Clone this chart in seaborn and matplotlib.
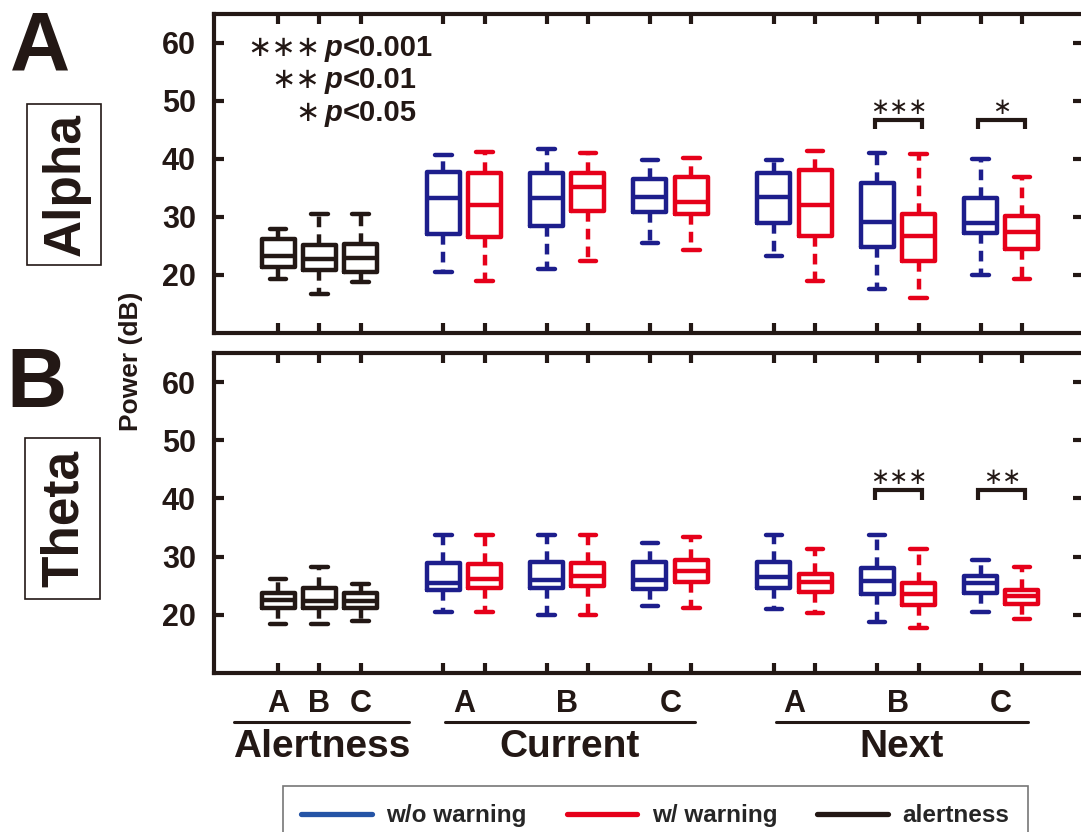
import numpy as np
import pandas as pd
import matplotlib
matplotlib.use("Agg")
import matplotlib.pyplot as plt
import seaborn as sns
from matplotlib.lines import Line2D
from matplotlib.patches import Rectangle
from matplotlib.transforms import blended_transform_factory

# five-number summaries: [min, q1, median, q3, max]
conditions = ["A", "B", "C"]
periods = ["Current", "Next"]
kinds = ["w/o warning", "w/ warning", "alertness"]

alert_alpha = [[19.3, 21.4, 23.2, 26.2, 28.0],
               [16.8, 20.8, 22.7, 25.1, 30.6],
               [18.8, 20.6, 23.0, 25.3, 30.6]]
wo_alpha = [[20.5, 27.0, 33.3, 37.8, 40.7],
            [21.0, 28.4, 33.3, 37.6, 41.7],
            [25.5, 30.9, 33.5, 36.6, 39.8],
            [23.2, 28.9, 33.5, 37.6, 39.8],
            [17.6, 24.8, 29.2, 35.9, 41.0],
            [20.0, 27.2, 28.9, 33.3, 40.0]]
w_alpha = [[19.0, 26.5, 32.0, 37.6, 41.2],
           [22.4, 31.1, 35.2, 37.6, 41.0],
           [24.3, 30.6, 32.6, 36.9, 40.2],
           [19.0, 26.7, 32.0, 38.1, 41.4],
           [16.1, 22.4, 26.8, 30.6, 40.9],
           [19.3, 24.4, 27.5, 30.1, 36.9]]

alert_theta = [[18.5, 21.2, 22.6, 23.8, 26.2],
               [18.5, 21.2, 22.4, 24.6, 28.2],
               [19.0, 21.2, 22.4, 23.8, 25.3]]
wo_theta = [[20.5, 24.2, 25.5, 28.9, 33.7],
            [20.0, 24.6, 25.9, 29.1, 33.7],
            [21.5, 24.5, 26.0, 29.0, 32.3],
            [21.0, 24.6, 26.5, 29.0, 33.8],
            [18.8, 23.6, 25.8, 28.0, 33.8],
            [20.5, 23.8, 25.5, 26.6, 29.4]]
w_theta = [[20.5, 24.6, 26.2, 28.7, 33.7],
           [20.0, 25.0, 26.6, 28.9, 33.7],
           [21.2, 25.7, 27.5, 29.4, 33.3],
           [20.3, 24.0, 25.6, 27.0, 31.3],
           [17.8, 21.7, 23.6, 25.5, 31.3],
           [19.3, 21.9, 23.3, 24.2, 28.2]]

# significance marks: (condition index in Next, stars)
sig_alpha = [(1, "∗∗∗"), (2, "∗")]
sig_theta = [(1, "∗∗∗"), (2, "∗∗")]

BLUE = "#1d1e8c"
RED = "#e6001a"
BLACK = "#231815"
LEG_BLUE = "#2554a6"

sns.set_style("ticks")
plt.rcParams["font.family"] = ["Liberation Sans", "DejaVu Sans"]
plt.rcParams["font.weight"] = "bold"

W, H = 1081, 832
def fx(px):
    return px / W
def fy(py):
    return 1 - py / H


def slot(period, cond):
    return 4 + 8 * period + 2.5 * cond


def make_frame(alert, wo, w):
    rows = []
    for i, s in enumerate(alert):
        rows += [(float(i), "alertness", v) for v in s]
    for j in range(6):
        p, c = divmod(j, 3)
        rows += [(slot(p, c), "w/o warning", v) for v in wo[j]]
        rows += [(slot(p, c) + 1, "w/ warning", v) for v in w[j]]
    return pd.DataFrame(rows, columns=["pos", "kind", "power"])


fig = plt.figure(figsize=(W / 100, H / 100), dpi=100)
axA = fig.add_axes([fx(214), fy(333), fx(1083) - fx(214), fy(14) - fy(333)])
axB = fig.add_axes([fx(214), fy(673), fx(1083) - fx(214), fy(353) - fy(673)])

xpos = [0, 1, 2] + [slot(p, c) + k for p in range(2) for c in range(3) for k in range(2)]

for ax, data, sig in [(axA, (alert_alpha, wo_alpha, w_alpha), sig_alpha),
                      (axB, (alert_theta, wo_theta, w_theta), sig_theta)]:
    df = make_frame(*data)
    sns.boxplot(data=df, x="pos", y="power", hue="kind", hue_order=kinds,
                palette=[BLUE, RED, BLACK], native_scale=True, dodge=False,
                fill=False, width=0.8, linewidth=3.2, whis=(0, 100),
                showfliers=False, legend=False,
                whiskerprops=dict(linestyle=(0, (2.4, 1.6))), ax=ax)
    ax.set_xlim(-1.55, 19.48)
    ax.set_ylim(10, 65)
    ax.set_yticks([20, 30, 40, 50, 60])
    ax.set_xticks(xpos)
    ax.set_xlabel("")
    ax.set_ylabel("")
    ax.tick_params(direction="in", length=7, width=3, top=True, right=True,
                   labelbottom=False, labelsize=22, pad=13, color=BLACK,
                   labelcolor=BLACK)
    for sp in ax.spines.values():
        sp.set_linewidth(3)
        sp.set_color(BLACK)
    # significance brackets
    ytop = 46.7 if ax is axA else 41.4
    for c, stars in sig:
        x0 = slot(1, c)
        ax.plot([x0 - 0.05, x0 - 0.05, x0 + 1.08, x0 + 1.08],
                [ytop - 1.6, ytop, ytop, ytop - 1.6], color=BLACK, lw=3,
                solid_joinstyle="miter", solid_capstyle="butt")
        ax.text(x0 + 0.52, ytop + 2.2, stars, ha="center", va="center",
                fontsize=16.5, family="DejaVu Sans", fontweight="normal", color=BLACK)

# p-value key
for py, stars, ptxt in [(48, "∗∗∗", "<0.001"), (80, "∗∗", "<0.01"), (113, "∗", "<0.05")]:
    t = fig.text(fx(325), fy(py), "p", ha="left", va="center", fontsize=21,
                 style="italic", color=BLACK)
    axA.annotate(ptxt, xy=(1, 0.5), xycoords=t, ha="left", va="center",
                 fontsize=21, color=BLACK)
    axA.annotate(stars, xy=(0, 0.5), xycoords=t, xytext=(-5, 0),
                 textcoords="offset pixels", ha="right", va="center",
                 fontsize=21, family="DejaVu Sans", fontweight="normal", color=BLACK)

# panel letters and band names
fig.text(fx(40), fy(70), "A", fontsize=60, fontweight="heavy", ha="center", va="baseline", color=BLACK)
fig.text(fx(37), fy(407), "B", fontsize=60, fontweight="heavy", ha="center", va="baseline", color=BLACK)
for (x0, y0, x1, y1), name in [((27, 104, 101, 265), "Alpha"), ((25, 438, 100, 599), "Theta")]:
    fig.add_artist(Rectangle((fx(x0), fy(y1)), fx(x1) - fx(x0), fy(y0) - fy(y1),
                             transform=fig.transFigure, fill=False, ec=BLACK, lw=1.2))
    fig.text(fx((x0 + x1) / 2 + 2), fy((y0 + y1) / 2), name, rotation=90, fontsize=37,
             ha="center", va="center", color=BLACK)
fig.text(fx(131), fy(361), "Power (dB)", rotation=90, fontsize=19, ha="center",
         va="center", color=BLACK)

# category axis labels under panel B
tr = blended_transform_factory(axB.transData, fig.transFigure)
for i, c in enumerate(conditions):
    fig.text(i, fy(704), c, transform=tr, ha="center", va="center", fontsize=22, color=BLACK)
    for p in range(2):
        fig.text(slot(p, i) + 0.5, fy(704), c, transform=tr, ha="center",
                 va="center", fontsize=22, color=BLACK)
for (a, b), name in [((234, 409), "Alertness"), ((445, 695), periods[0]), ((776, 1028), periods[1])]:
    fig.add_artist(Line2D([fx(a), fx(b)], [fy(722), fy(722)], color=BLACK, lw=2.2))
    fig.text(fx((a + b) / 2), fy(747), name, ha="center", va="center", fontsize=28, color=BLACK)

handles = [Line2D([], [], color=col, lw=3.8) for col in [LEG_BLUE, RED, BLACK]]
leg = fig.legend(handles, ["w/o warning", "w/ warning", "alertness"], loc="upper left",
                 bbox_to_anchor=(fx(283), fy(786)), ncol=3, frameon=True, fancybox=False,
                 prop=dict(weight="bold", size=17.5),
                 handlelength=2.9, handletextpad=0.6, columnspacing=1.65,
                 borderpad=0.75, borderaxespad=0)
leg.get_frame().set_edgecolor("#555555")
leg.get_frame().set_linewidth(1.2)

fig.savefig("out.png", dpi=100)
